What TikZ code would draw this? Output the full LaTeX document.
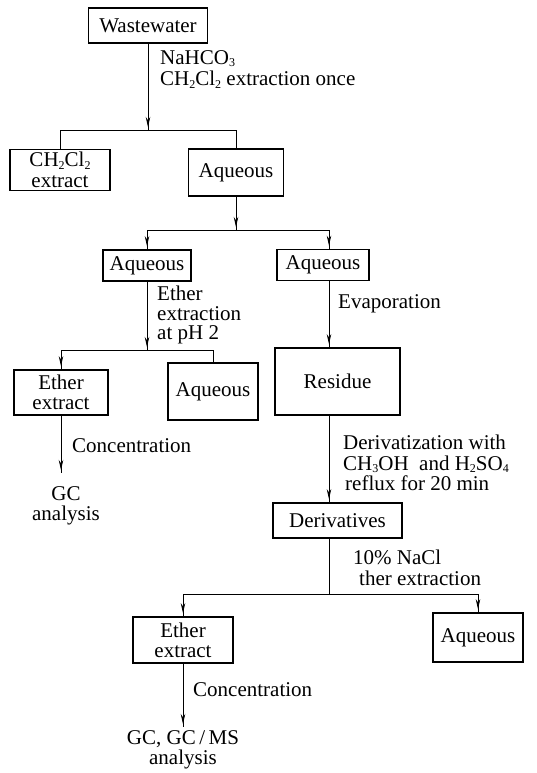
\documentclass[tikz,border=0pt]{standalone}
\usepackage{fontspec}
\setmainfont{Liberation Serif}
\usetikzlibrary{arrows.meta,decorations.markings}
\newcommand{\chsub}[1]{\raisebox{-0.12em}{\fontsize{12}{12}\selectfont #1}}

\begin{document}
\begin{tikzpicture}[x=1pt,y=-1pt,
  stage/.style={draw,line width=1.8pt,align=center,inner sep=2pt,font=\fontsize{21}{20}\selectfont},
  note/.style={anchor=north west,align=left,inner sep=0pt,font=\fontsize{21}{20.5}\selectfont},
  result/.style={anchor=north,align=center,inner xsep=0pt,font=\fontsize{21}{20.5}\selectfont},
  link/.style={line width=0.9pt},
  flow/.style={link,decoration={markings,mark=at position -3pt with {\arrow{Stealth[length=10pt,width=4.5pt]}}},postaction={decorate}}]
  \useasboundingbox (0,0) rectangle (536,773);
  \node[stage,minimum width=119pt,minimum height=35pt] (ww) at (148,25.5) {Wastewater};
  \node[stage,minimum width=100pt,minimum height=41pt,font=\fontsize{21}{21}\selectfont] (dcm) at (60,170) {CH\chsub{2}Cl\chsub{2}\\extract};
  \node[stage,minimum width=95pt,minimum height=47pt] (aq1) at (236,172.5) {Aqueous};
  \node[stage,minimum width=88pt,minimum height=31pt] (aq2) at (147,265.5) {Aqueous};
  \node[stage,minimum width=92pt,minimum height=31pt] (aq3) at (323,265) {Aqueous};
  \node[stage,minimum width=94pt,minimum height=45pt] (eth1) at (61,392.5) {Ether\\extract};
  \node[stage,minimum width=90pt,minimum height=57pt] (aq4) at (213,391.5) {Aqueous};
  \node[stage,minimum width=125pt,minimum height=67pt] (res) at (337.5,381.5) {Residue};
  \node[stage,minimum width=129pt,minimum height=35pt] (der) at (337.5,520.5) {Derivatives};
  \node[stage,minimum width=100pt,minimum height=46pt] (eth2) at (183,640) {Ether\\extract};
  \node[stage,minimum width=90pt,minimum height=49pt] (aq5) at (478,637.5) {Aqueous};
  \node[result,inner ysep=13pt] (gc1) at (66,473) {GC\\analysis};
  \node[result,inner ysep=3pt] (gc2) at (183,727) {GC, GC\,/\,MS\\analysis};
  \coordinate (j1) at (148,130);
  \coordinate (j1l) at (60,130);
  \coordinate (j1r) at (236,130);
  \coordinate (j2) at (236,230);
  \coordinate (j2l) at (147,230);
  \coordinate (j2r) at (329,230);
  \coordinate (j3) at (147,350);
  \coordinate (j3l) at (61,350);
  \coordinate (j3r) at (213,350);
  \coordinate (j4) at (329,594);
  \coordinate (j4l) at (183,594);
  \coordinate (j4r) at (478,594);
  \node[note,font=\fontsize{21}{21.5}\selectfont] (l1) at (160,50) {NaHCO\chsub{3}\\CH\chsub{2}Cl\chsub{2} extraction once};
  \node[note,font=\fontsize{21}{19.5}\selectfont] (l2) at (157,286) {Ether\\extraction\\at pH 2};
  \node[note] (l3) at (338,294) {Evaporation};
  \node[note] (l4) at (72,438) {Concentration};
  \node[note] (l5) at (343,435) {Derivatization with\\CH\chsub{3}OH\ \ and H\chsub{2}SO\chsub{4}\\\hspace*{2pt}reflux for 20 min};
  \node[note] (l6) at (353,550) {10\% NaCl\\\hspace*{6pt}ther extraction};
  \node[note] (l7) at (193,682) {Concentration};
  \draw[flow] (ww) -- (j1);
  \draw[link] (j1l) -- (j1r);
  \draw[link] (j1l) -- (dcm);
  \draw[link] (j1r) -- (aq1);
  \draw[flow] (aq1) -- (j2);
  \draw[link] (j2l) -- (j2r);
  \draw[flow] (j2l) -- (aq2);
  \draw[flow] (j2r) -- (aq3.north -| j2r);
  \draw[flow] (aq2) -- (j3);
  \draw[link] (j3l) -- (j3r);
  \draw[flow] (j3l) -- (eth1);
  \draw[link] (j3r) -- (aq4);
  \draw[flow] (aq3.south -| j2r) -- (res.north -| j2r);
  \draw[flow] (res.south -| j4) -- (der.north -| j4);
  \draw[link] (der.south -| j4) -- (j4);
  \draw[link] (j4l) -- (j4r);
  \draw[flow] (j4l) -- (eth2);
  \draw[flow] (j4r) -- (aq5);
  \draw[flow] (eth1) -- (gc1.north -| eth1);
  \draw[flow] (eth2) -- (gc2);
\end{tikzpicture}
\end{document}
